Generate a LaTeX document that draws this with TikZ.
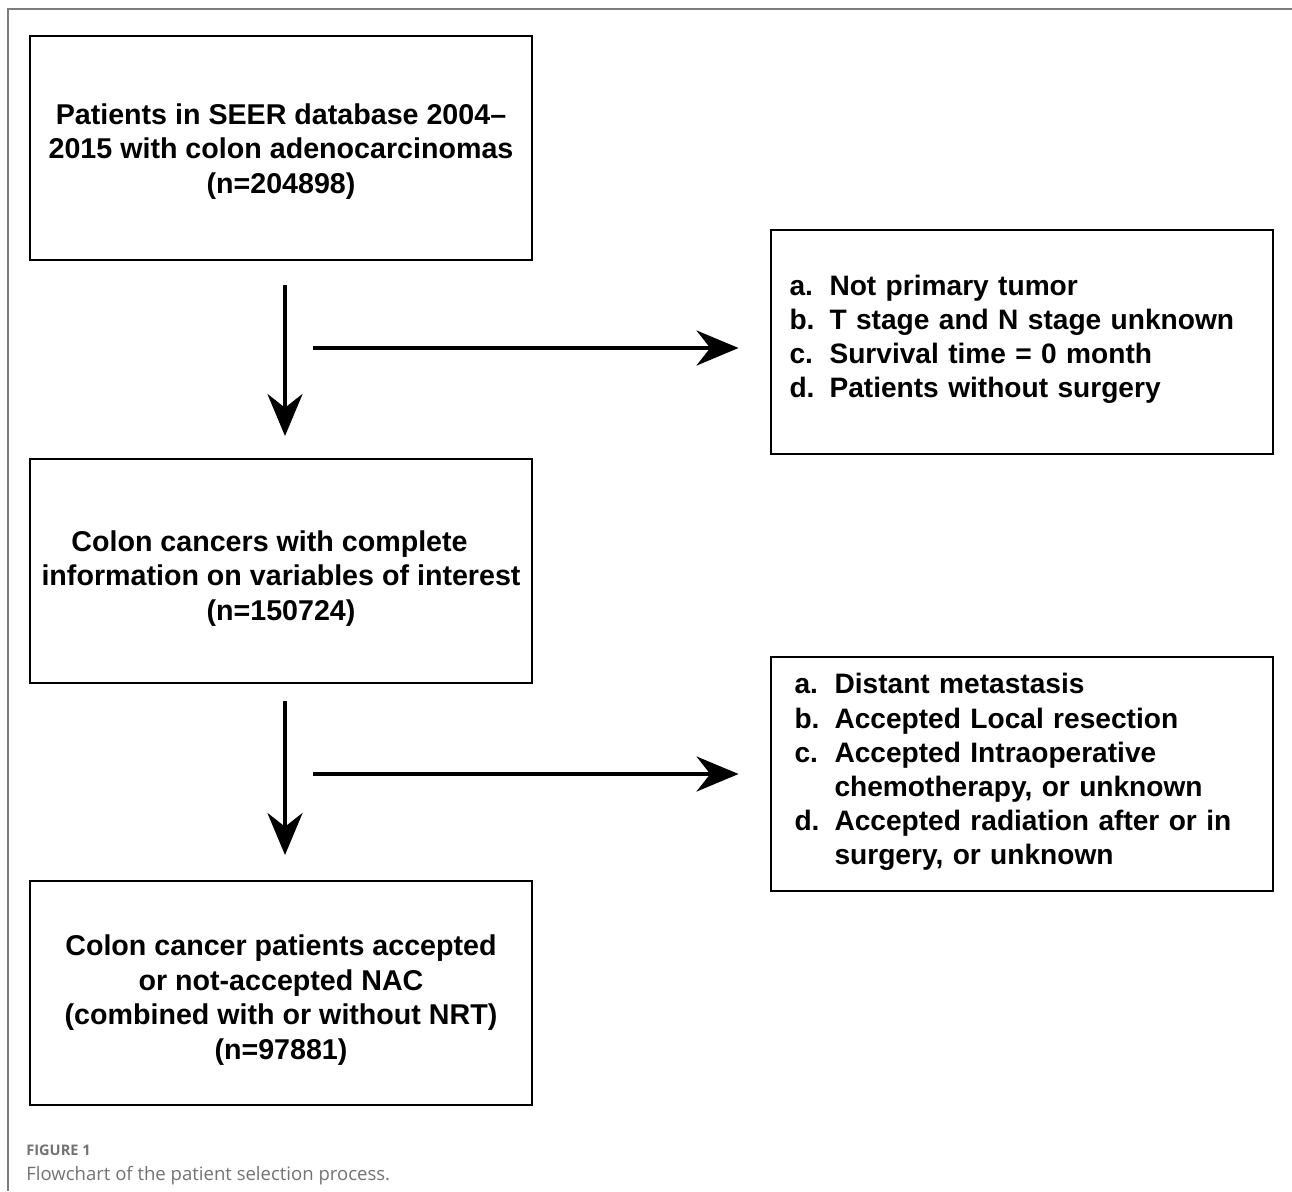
\documentclass[tikz,border=0pt]{standalone}
\usepackage{fontspec}
\setmainfont{Liberation Sans}
\newfontfamily\capfont{Open Sans}
\usetikzlibrary{arrows.meta}
\definecolor{framegray}{RGB}{125,125,125}
\definecolor{capgray}{RGB}{115,115,115}
\newcommand{\itm}[1]{\makebox[0.8cm][l]{#1}}
\newcommand{\topgap}[1]{\rule{0pt}{#1}}
\newcommand{\botgap}[1]{\rule[-#1]{0pt}{0pt}}
\tikzset{
  box/.style={draw, line width=0.04cm, minimum width=10.04cm, minimum height=4.48cm,
    align=center, font=\bfseries\fontsize{16.3}{19.6}\selectfont},
  exclbox/.style={draw, line width=0.04cm, minimum width=10.06cm, inner xsep=0.38cm,
    text width=9.3cm, align=left, font=\bfseries\fontsize{16}{19.4}\selectfont},
  flow/.style={line width=0.08cm, -{Stealth[length=0.84cm, width=0.7cm]}}
}
\begin{document}
\begin{tikzpicture}[x=0.02cm, y=-0.02cm]
  \useasboundingbox (0,0) rectangle (1292,1191);
  \draw[framegray, line width=0.03cm] (8,1191) -- (8,9) -- (1292,9);

  \node[box] (pat) at (281,148) {\topgap{15.5pt}Patients in SEER database 2004--\\2015 with colon adenocarcinomas\\(n=204898)};
  \node[box] (compl) at (281,571) {\topgap{20pt}Colon cancers with complete\hspace*{0.46cm}\\information on variables of interest\\(n=150724)};
  \node[box] (final) at (281,993) {\topgap{20pt}Colon cancer patients accepted\\or not-accepted NAC\\(combined with or without NRT)\\(n=97881)};

  \node[exclbox, minimum height=4.48cm] (excl1) at (1022,342) {\itm{a.}Not primary tumor\\\itm{b.}T stage and N stage unknown\\\itm{c.}Survival time = 0 month\\\itm{d.}Patients without surgery\botgap{0.24cm}};
  \node[exclbox, minimum height=4.7cm, inner xsep=0.48cm, text width=9.1cm] (excl2) at (1022,774) {\itm{a.}Distant metastasis\\\itm{b.}Accepted Local resection\\\itm{c.}Accepted Intraoperative\\\itm{}chemotherapy, or unknown\\\itm{d.}Accepted radiation after or in\\\itm{}surgery, or unknown\botgap{0.2cm}};

  \coordinate (cut1) at (313,348);
  \coordinate (cut2) at (313,774);

  \draw[flow, shorten <=0.48cm, shorten >=0.44cm] ([xshift=0.08cm]pat.south) -- ([xshift=0.08cm]compl.north);
  \draw[flow, shorten <=0.34cm, shorten >=0.5cm] ([xshift=0.08cm]compl.south) -- ([xshift=0.08cm]final.north);
  \draw[flow, shorten >=0.62cm] (cut1) -- (cut1 -| excl1.west);
  \draw[flow, shorten >=0.62cm] (cut2) -- (cut2 -| excl2.west);

  \node[anchor=base west, inner sep=0, text=capgray, font=\capfont\bfseries\fontsize{8.3}{10}\selectfont] (fig) at (26,1155) {FIGURE 1};
  \node[anchor=base west, inner sep=0, text=capgray, font=\capfont\fontsize{10.55}{12}\selectfont] (cap) at (26,1180) {Flowchart of the patient selection process.};
\end{tikzpicture}
\end{document}
